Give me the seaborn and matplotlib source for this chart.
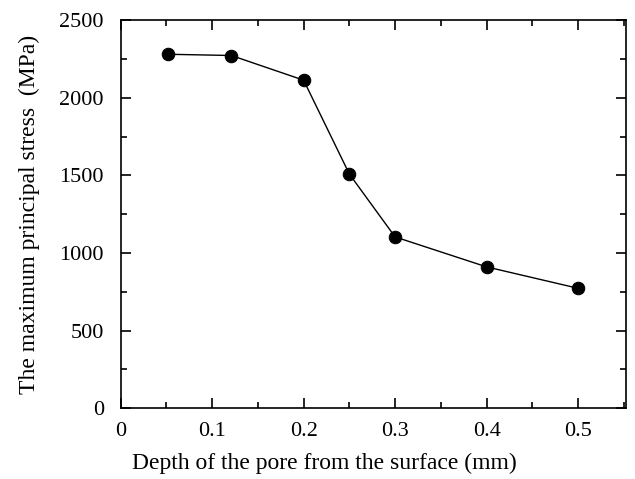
import numpy as np
import pandas as pd
import matplotlib
matplotlib.use('Agg')
import matplotlib.pyplot as plt
import seaborn as sns
from matplotlib.ticker import MultipleLocator

# 데이터
depth = [0.052, 0.121, 0.2, 0.25, 0.3, 0.4, 0.5]
stress = [2280, 2272, 2113, 1508, 1103, 910, 772]
x_ticks = [0, 0.1, 0.2, 0.3, 0.4, 0.5]
y_ticks = [0, 500, 1000, 1500, 2000, 2500]

df = pd.DataFrame({'depth': depth, 'stress': stress})

sns.set_style('ticks')
plt.rcParams['font.family'] = ['Liberation Serif', 'DejaVu Serif']
plt.rcParams['text.color'] = 'black'
plt.rcParams['axes.labelcolor'] = 'black'
plt.rcParams['xtick.color'] = 'black'
plt.rcParams['ytick.color'] = 'black'

fig, ax = plt.subplots(figsize=(6.35, 4.79), dpi=100)
fig.subplots_adjust(left=0.19, right=0.986, top=0.958, bottom=0.148)

sns.lineplot(data=df, x='depth', y='stress', color='black', lw=1,
             marker='o', markersize=9, markeredgecolor='black', ax=ax)

ax.set_xlim(0, 0.5525)
ax.set_ylim(0, 2500)
ax.set_xticks(x_ticks)
ax.set_xticklabels(['0', '0.1', '0.2', '0.3', '0.4', '0.5'])
ax.set_yticks(y_ticks)
ax.xaxis.set_minor_locator(MultipleLocator(0.05))
ax.yaxis.set_minor_locator(MultipleLocator(250))
ax.tick_params(which='both', direction='in', top=True, right=True,
               labelsize=16, width=1.2)
ax.tick_params(axis='x', pad=10)
ax.tick_params(axis='y', pad=12)
ax.tick_params(which='major', length=7)
ax.tick_params(which='minor', length=4)
for s in ax.spines.values():
    s.set_linewidth(1.2)
    s.set_color('black')

ax.set_xlabel('Depth of the pore from the surface (mm)', fontsize=17)
ax.xaxis.set_label_coords(0.403, -0.115)
ax.set_ylabel('The maximum principal stress  (MPa)', fontsize=17, labelpad=14)

fig.savefig('out.png', dpi=100)
